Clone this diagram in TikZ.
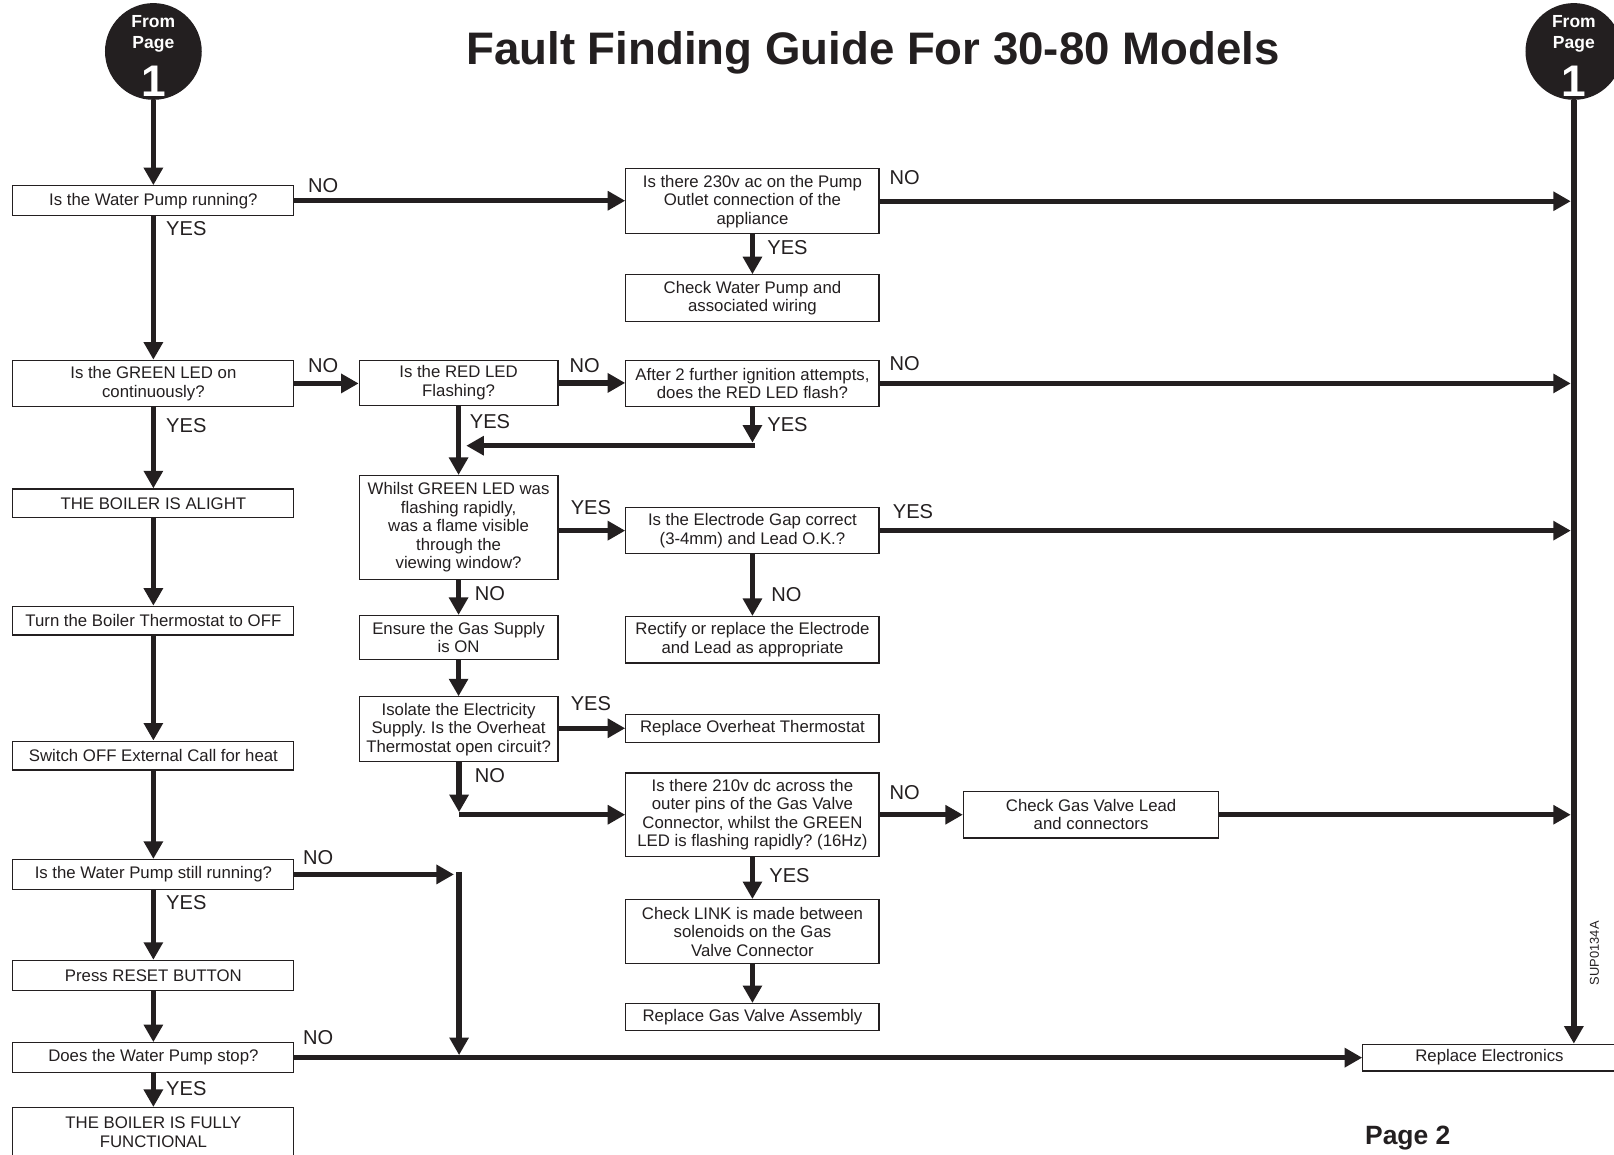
\documentclass[tikz,border=0pt]{standalone}
\usepackage{fontspec}
\setmainfont{Liberation Sans}
\usetikzlibrary{arrows.meta}
\definecolor{ink}{RGB}{35,31,32}
\frenchspacing
\begin{document}
\begin{tikzpicture}[x=1pt,y=-1pt,
  box/.style={draw=ink, line width=1.2pt, fill=white, align=center, inner sep=0pt,
    text=ink, font=\fontsize{16.3}{18}\selectfont},
  lbox/.style={box, minimum width=273pt},
  mbox/.style={box, minimum width=193pt},
  rbox/.style={box, minimum width=246pt},
  lbl/.style={font=\fontsize{19.5}{20}\selectfont, text=ink, inner sep=0pt},
  arr/.style={draw=ink, line width=5.3pt, -{Triangle[length=17pt,width=18pt]}},
  ln/.style={draw=ink, line width=5.3pt},
  circ/.style={circle, fill=ink, minimum size=94pt, inner sep=0pt}
]
\useasboundingbox (0,0) rectangle (1568,1122);

% title
\node[font=\bfseries\fontsize{44.3}{46}\selectfont, text=ink, anchor=base] (title) at (848,63) {Fault Finding Guide For 30-80 Models};

% connector circles
\node[circ] (circL) at (149,50) {};
\node[circ] (circR) at (1529,50) {};
\foreach \c/\n in {149/L,1529/R}{
  \node[font=\bfseries\fontsize{17}{17}\selectfont, text=white, anchor=base] (fr\n) at (\c,26.5) {From};
  \node[font=\bfseries\fontsize{17}{17}\selectfont, text=white, anchor=base] (pg\n) at (\c,47) {Page};
  \node[font=\bfseries\fontsize{43}{43}\selectfont, text=white, anchor=base] (one\n) at (\c,94) {1};
}

% left column
\node[lbox, minimum height=29pt] (b1) at (149,195) {Is the Water Pump running?};
\node[lbox, minimum height=45pt] (b2) at (149,372.5) {Is the GREEN LED on\\continuously?};
\node[lbox, minimum height=28pt] (b3) at (149,489) {THE BOILER IS ALIGHT};
\node[lbox, minimum height=28pt] (b4) at (149,603) {Turn the Boiler Thermostat to OFF};
\node[lbox, minimum height=28pt] (b5) at (149,734) {Switch OFF External Call for heat};
\node[lbox, minimum height=29pt] (b6) at (149,849.5) {Is the Water Pump still running?};
\node[lbox, minimum height=29pt] (b7) at (149,947.5) {Press RESET BUTTON};
\node[lbox, minimum height=29pt] (b8) at (149,1027.5) {Does the Water Pump stop?};
\node[lbox, minimum height=48pt] (b9) at (149,1100) {THE BOILER IS FULLY\\FUNCTIONAL};

% middle column
\node[mbox, minimum height=44pt] (m1) at (445.5,372) {Is the RED LED\\Flashing?};
\node[mbox, minimum height=101pt] (m2) at (445.5,512.5) {Whilst GREEN LED was\\flashing rapidly,\\was a flame visible\\through the\\viewing window?};
\node[mbox, minimum height=43pt] (m3) at (445.5,619.5) {Ensure the Gas Supply\\is ON};
\node[mbox, minimum height=63pt] (m4) at (445.5,708.5) {Isolate the Electricity\\Supply. Is the Overheat\\Thermostat open circuit?};

% right-middle column
\node[rbox, minimum height=63pt] (r1) at (731,195.5) {Is there 230v ac on the Pump\\Outlet connection of the\\appliance};
\node[rbox, minimum height=45pt] (r2) at (731,289.5) {Check Water Pump and\\associated wiring};
\node[rbox, minimum height=45pt] (r3) at (731,372.5) {After 2 further ignition attempts,\\does the RED LED flash?};
\node[rbox, minimum height=45pt] (r4) at (731,515.5) {Is the Electrode Gap correct\\(3-4mm) and Lead O.K.?};
\node[rbox, minimum height=45pt] (r5) at (731,621.5) {Rectify or replace the Electrode\\and Lead as appropriate};
\node[rbox, minimum height=27pt] (r6) at (731,707.5) {Replace Overheat Thermostat};
\node[rbox, minimum height=81pt] (r7) at (731,791.5) {Is there 210v dc across the\\outer pins of the Gas Valve\\Connector, whilst the GREEN\\LED is flashing rapidly? (16Hz)};
\node[rbox, minimum height=62pt] (r8) at (731,905) {Check LINK is made between\\solenoids on the Gas\\Valve Connector};
\node[rbox, minimum height=26pt] (r9) at (731,988) {Replace Gas Valve Assembly};

% far right
\node[box, minimum width=248pt, minimum height=45pt] (g1) at (1060,791.5) {Check Gas Valve Lead\\and connectors};
\node[box, minimum width=246pt, minimum height=26pt] (e1) at (1447,1027.5) {Replace Electronics};

% helper coordinates
\coordinate (rl) at (1526,0);
\coordinate (j1) at (731,430);
\coordinate (j1b) at (733,433);
\coordinate (j1c) at (453,433);
\coordinate (j2) at (446,789);
\coordinate (j2b) at (446,791.5);
\coordinate (k1) at (441,849.5);
\coordinate (k2) at (446,847);
\coordinate (k3) at (446,1025);

% left column connectors
\draw[arr] (circL.south) -- (circL.south |- b1.north);
\draw[arr] (b1) -- (b2);
\draw[arr] (b2) -- (b3);
\draw[arr] (b3) -- (b4);
\draw[arr] (b4) -- (b5);
\draw[arr] (b5) -- (b6);
\draw[arr] (b6) -- (b7);
\draw[arr] (b7) -- (b8);
\draw[arr] (b8) -- (b9);

% right trunk
\draw[arr] (circR.south) -- (circR.south |- e1.north);

% horizontal connectors
\draw[arr] (b1.east) -- (b1.east -| r1.west);
\draw[arr] (r1.east) -- (r1.east -| rl);
\draw[arr] (r1) -- (r2);
\draw[arr] (b2.east) -- (b2.east -| m1.west);
\draw[arr] (m1.east) -- (m1.east -| r3.west);
\draw[arr] (r3.east) -- (r3.east -| rl);
\draw[arr] (r3.south) -- (j1);
\draw[arr] (j1b) -- (j1c);
\draw[arr] (m1) -- (m2);
\draw[arr] (m2.east |- r4.west) -- (r4.west);
\draw[arr] (r4.east) -- (r4.east -| rl);
\draw[arr] (r4) -- (r5);
\draw[arr] (m2) -- (m3);
\draw[arr] (m3) -- (m4);
\draw[arr] (m4.east |- r6.west) -- (r6.west);
\draw[arr] (m4.south -| j2) -- (j2);
\draw[arr] (j2b) -- (r7.west);
\draw[arr] (r7.east) -- (g1.west);
\draw[arr] (g1.east) -- (g1.east -| rl);
\draw[arr] (r7) -- (r8);
\draw[arr] (r8) -- (r9);
\draw[arr] (b6.east) -- (k1);
\draw[arr] (k2) -- (k3);
\draw[arr] (b8.east) -- (b8.east -| e1.west);

% labels
\node[lbl] (l1) at (314,180) {NO};
\node[lbl] (l2) at (181,222) {YES};
\node[lbl] (l3) at (879,173) {NO};
\node[lbl] (l4) at (765,241) {YES};
\node[lbl] (l5) at (314,355) {NO};
\node[lbl] (l6) at (568,355) {NO};
\node[lbl] (l7) at (879,353) {NO};
\node[lbl] (l8) at (181,413) {YES};
\node[lbl] (l9) at (476,410) {YES};
\node[lbl] (l10) at (765,412) {YES};
\node[lbl] (l11) at (574,493) {YES};
\node[lbl] (l12) at (887,497) {YES};
\node[lbl] (l13) at (476,577) {NO};
\node[lbl] (l14) at (764,578) {NO};
\node[lbl] (l15) at (574,684) {YES};
\node[lbl] (l16) at (476,753) {NO};
\node[lbl] (l17) at (879,770) {NO};
\node[lbl] (l18) at (767,851) {YES};
\node[lbl] (l19) at (309,833) {NO};
\node[lbl] (l20) at (181,877) {YES};
\node[lbl] (l21) at (309,1008) {NO};
\node[lbl] (l22) at (181,1058) {YES};

% misc text
\node[font=\fontsize{12.5}{13}\selectfont, text=ink, rotate=90, inner sep=0pt] (sup) at (1549,926) {SUP0134A};
\node[font=\bfseries\fontsize{25.7}{26}\selectfont, text=ink, anchor=base west, inner sep=0pt] (pg2) at (1326,1112) {Page 2};
\end{tikzpicture}
\end{document}
